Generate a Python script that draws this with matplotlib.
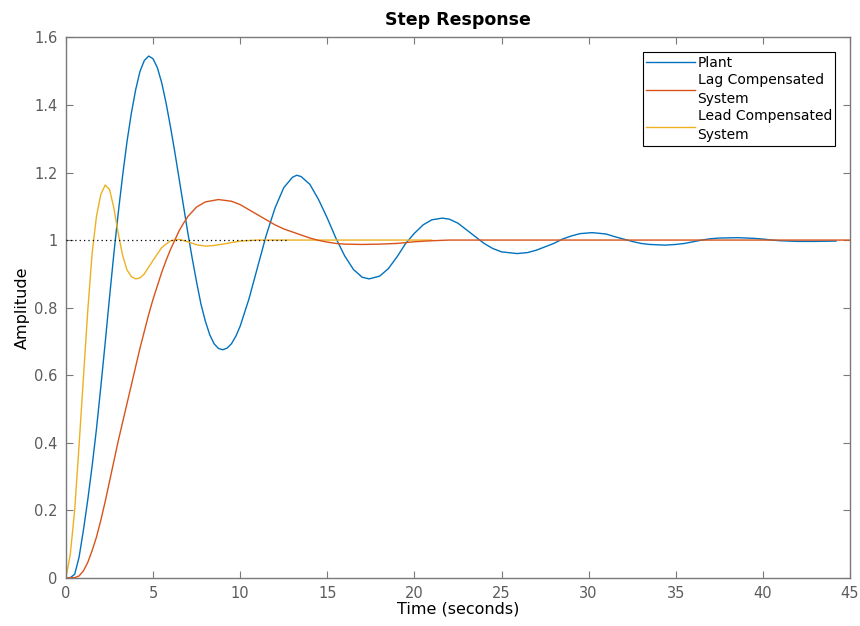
import matplotlib
matplotlib.use("Agg")
import matplotlib.pyplot as plt

# Dados (tempo em segundos, amplitude)

t_plant = [0, 0.25, 0.5, 0.75, 1.0, 1.25, 1.5, 1.75, 2.0, 2.25, 2.5, 2.75, 3.0, 3.25, 3.5,
           3.75, 4.0, 4.25, 4.5, 4.75, 5.0, 5.25, 5.5, 5.75, 6.0, 6.25, 6.5, 6.75, 7.0, 7.25,
           7.5, 7.75, 8.0, 8.25, 8.5, 8.75, 9.0, 9.25, 9.5, 9.75, 10.0, 10.5, 11.0, 11.5, 12.0,
           12.5, 13.0, 13.25, 13.5, 14.0, 14.5, 15.0, 15.5, 16.0, 16.5, 17.0, 17.4, 18.0, 18.5,
           19.0, 19.5, 20.0, 20.5, 21.0, 21.6, 22.0, 22.5, 23.0, 23.5, 24.0, 24.5, 25.0, 25.9,
           26.5, 27.0, 27.5, 28.0, 28.5, 29.0, 29.5, 30.2, 31.0, 31.5, 32.0, 32.5, 33.0, 33.5,
           34.4, 35.0, 35.5, 36.0, 36.5, 37.0, 37.5, 38.6, 39.5, 40.0, 40.5, 41.0, 42.0, 43.0,
           44.2]
y_plant = [0, 0.0, 0.01, 0.06, 0.14, 0.23, 0.33, 0.44, 0.565, 0.695, 0.83, 0.96, 1.08, 1.19, 1.29,
           1.375, 1.445, 1.50, 1.532, 1.545, 1.537, 1.51, 1.465, 1.405, 1.335, 1.26, 1.18, 1.10, 1.02, 0.945,
           0.875, 0.81, 0.76, 0.72, 0.693, 0.679, 0.675, 0.68, 0.693, 0.715, 0.745, 0.825, 0.92, 1.015, 1.095,
           1.155, 1.186, 1.192, 1.188, 1.165, 1.12, 1.065, 1.005, 0.953, 0.913, 0.89, 0.885, 0.893, 0.915,
           0.95, 0.99, 1.02, 1.045, 1.06, 1.065, 1.062, 1.05, 1.03, 1.01, 0.99, 0.975, 0.965, 0.96,
           0.963, 0.97, 0.98, 0.99, 1.003, 1.012, 1.019, 1.022, 1.018, 1.01, 1.003, 0.996, 0.99, 0.987,
           0.985, 0.987, 0.99, 0.995, 1.0, 1.004, 1.006, 1.007, 1.005, 1.003, 1.0, 0.998, 0.996, 0.996,
           0.997]

t_lag = [0, 0.5, 0.75, 1.0, 1.25, 1.5, 1.75, 2.0, 2.25, 2.5, 2.75, 3.0, 3.25, 3.5, 3.75, 4.0,
         4.25, 4.5, 4.75, 5.0, 5.25, 5.5, 5.75, 6.0, 6.25, 6.5, 6.75, 7.0, 7.5, 8.0, 8.75, 9.5,
         10.0, 10.5, 11.0, 11.5, 12.0, 12.5, 13.0, 13.5, 14.0, 14.5, 15.0, 15.5, 16.0, 17.0,
         18.0, 19.0, 20.0, 21.0, 22.0, 45.0]
y_lag = [0, 0.0, 0.005, 0.02, 0.045, 0.08, 0.12, 0.17, 0.225, 0.285, 0.345, 0.405, 0.46, 0.515, 0.57, 0.625,
         0.68, 0.73, 0.78, 0.825, 0.865, 0.905, 0.94, 0.972, 1.0, 1.028, 1.05, 1.07, 1.098, 1.113, 1.12, 1.115,
         1.105, 1.09, 1.075, 1.06, 1.045, 1.033, 1.024, 1.015, 1.006, 0.999, 0.994, 0.99, 0.988, 0.987,
         0.988, 0.99, 0.995, 0.998, 1.0, 1.0]

t_lead = [0, 0.25, 0.5, 0.75, 1.0, 1.25, 1.5, 1.75, 2.0, 2.25, 2.5, 2.75, 3.0, 3.25, 3.5, 3.75,
          4.0, 4.25, 4.5, 5.0, 5.5, 6.0, 6.5, 7.0, 7.5, 8.0, 8.5, 9.0, 10.0, 11.0, 21.0]
y_lead = [0, 0.07, 0.2, 0.39, 0.59, 0.79, 0.96, 1.07, 1.135, 1.163, 1.15, 1.095, 1.02, 0.955, 0.912, 0.892,
          0.885, 0.888, 0.90, 0.94, 0.978, 0.998, 1.002, 0.995, 0.986, 0.982, 0.984, 0.988, 0.997, 1.0, 1.0]

legendas = ["Plant", "Lag Compensated\nSystem", "Lead Compensated\nSystem"]
cores = ["#0072BD", "#D95319", "#EDB120"]

valor_final = 1.0
fim_pontilhado = 12.7

x_ticks = [0, 5, 10, 15, 20, 25, 30, 35, 40, 45]
y_ticks = [0, 0.2, 0.4, 0.6, 0.8, 1.0, 1.2, 1.4, 1.6]
y_tick_labels = ["0", "0.2", "0.4", "0.6", "0.8", "1", "1.2", "1.4", "1.6"]

# Gráfico

plt.rcParams['font.family'] = ['DejaVu Sans']
fig = plt.figure(figsize=(8.6, 6.26), dpi=100)
ax = fig.add_axes([0.0767, 0.0772, 0.9116, 0.8629])

ax.plot(t_plant, y_plant, color=cores[0], lw=1.0, label=legendas[0])
ax.plot(t_lead, y_lead, color=cores[2], lw=1.0, label=legendas[2], zorder=2.1)
ax.plot(t_lag, y_lag, color=cores[1], lw=1.0, label=legendas[1], zorder=2.2)
ax.plot([0, fim_pontilhado], [valor_final, valor_final], color="black", lw=0.9,
        linestyle=(0, (1, 2.5)), zorder=3)

ax.set_xlim(0, 45)
ax.set_ylim(0, 1.6)
ax.set_xticks(x_ticks)
ax.set_yticks(y_ticks)
ax.set_yticklabels(y_tick_labels)

cinza = "#7a7a7a"
for s in ax.spines.values():
    s.set_color(cinza)
    s.set_linewidth(1.0)
ax.tick_params(direction="in", top=True, right=True, length=5, width=0.8,
               colors=cinza, labelcolor="#5c5c5c", labelsize=10.5, pad=6)

ax.set_title("Step Response", fontsize=12.5, fontweight="bold", pad=9)
ax.set_xlabel("Time (seconds)", fontsize=11.5, labelpad=0)
ax.set_ylabel("Amplitude", fontsize=11.5, labelpad=3)

h, l = ax.get_legend_handles_labels()
ordem = [0, 2, 1]
leg = ax.legend([h[i] for i in ordem], [l[i] for i in ordem], loc="upper right",
                fontsize=10, handlelength=3.5, handletextpad=0.2, labelspacing=0.25,
                borderpad=0.25, borderaxespad=1.05, fancybox=False, framealpha=1)
for txt in leg.get_texts():
    txt.set_linespacing(1.45)
leg.get_frame().set_edgecolor("black")
leg.get_frame().set_linewidth(0.8)

fig.savefig("out.png", dpi=100)
